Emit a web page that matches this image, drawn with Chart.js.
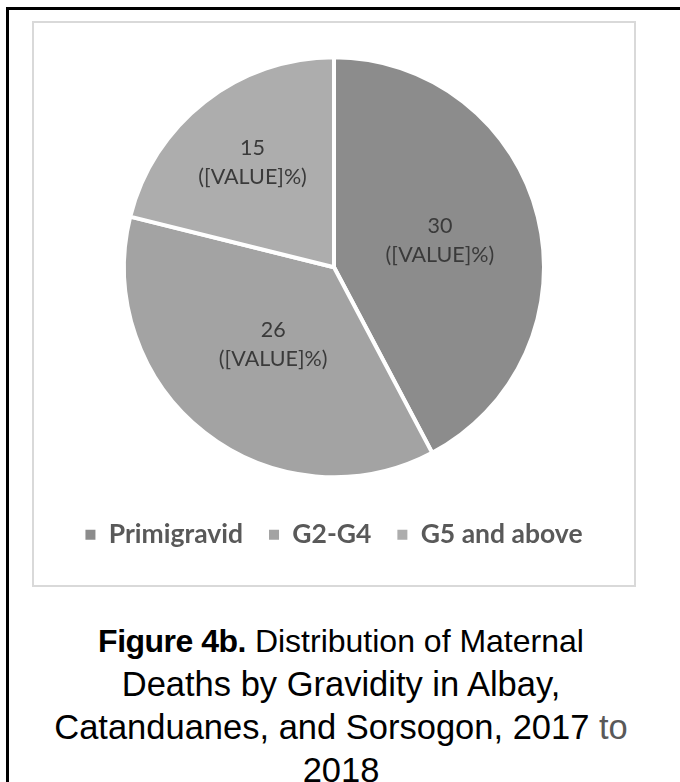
<!DOCTYPE html>
<html>
<head>
<meta charset="utf-8">
<script src="https://cdn.jsdelivr.net/npm/chart.js@4"></script>
<style>
  html, body { margin: 0; padding: 0; background: #fff; width: 680px; height: 782px; overflow: hidden; }
  #frame { position: absolute; left: 6px; top: 7px; width: 700px; height: 800px; border-left: 3px solid #000; border-top: 3px solid #000; }
  #box { position: absolute; left: 32px; top: 21px; width: 600px; height: 562px; border: 2px solid #d9d9d9; background: #fff; }
  #box canvas { display: block; }
  #caption { position: absolute; left: 0; width: 682px; top: 619px; text-align: center; font-family: "Liberation Sans", Arial, sans-serif; font-size: 34.5px; line-height: 43px; color: #000; }
  #caption .l1 { font-size: 32px; }
  #caption b { font-weight: bold; letter-spacing: -0.5px; }
  #caption .gray { color: #595959; }
</style>
</head>
<body>
<div id="frame"></div>
<div id="box"><canvas id="c" width="600" height="562"></canvas></div>
<div id="caption"><span class="l1"><b>Figure 4b.</b> Distribution of Maternal</span><br>Deaths by Gravidity in Albay,<br>Catanduanes, and Sorsogon, 2017 <span class="gray">to</span><br>2018</div>
<script>
const categories = ["Primigravid", "G2-G4", "G5 and above"];
const values = [30, 26, 15];
const pctLabel = "([VALUE]%)";
const colors = ["#8c8c8c", "#a3a3a3", "#adadad"];
const labelRadiusFactor = [0.52, 0.47, 0.63];

const sliceLabels = {
  id: 'sliceLabels',
  afterDatasetsDraw(chart) {
    const ctx = chart.ctx;
    const meta = chart.getDatasetMeta(0);
    ctx.save();
    ctx.font = '21.5px Lato, "Open Sans", sans-serif';
    ctx.fillStyle = '#3a3a3a';
    ctx.textAlign = 'center';
    ctx.textBaseline = 'middle';
    meta.data.forEach((arc, i) => {
      const p = arc.getProps(['x', 'y', 'startAngle', 'endAngle', 'outerRadius'], true);
      const mid = (p.startAngle + p.endAngle) / 2;
      const r = p.outerRadius * labelRadiusFactor[i];
      const x = p.x + Math.cos(mid) * r;
      const y = p.y + Math.sin(mid) * r;
      ctx.fillText(String(chart.data.datasets[0].data[i]), x, y - 14.5);
      ctx.fillText(pctLabel, x, y + 14.5);
    });
    ctx.restore();
  }
};

new Chart(document.getElementById('c'), {
  type: 'pie',
  data: {
    labels: categories,
    datasets: [{
      data: values,
      backgroundColor: colors,
      borderColor: '#ffffff',
      borderWidth: 4,
      radius: 210
    }]
  },
  options: {
    responsive: false,
    animation: false,
    layout: { padding: { top: 16, bottom: 27 } },
    plugins: {
      legend: {
        position: 'bottom',
        labels: {
          boxWidth: 10,
          boxHeight: 10,
          padding: 26,
          color: '#595959',
          font: { family: 'Lato, "Open Sans", sans-serif', size: 26.5, weight: 'bold' },
          generateLabels(chart) {
            const items = Chart.controllers.pie.overrides.plugins.legend.labels.generateLabels(chart);
            items.forEach(it => { it.lineWidth = 0; it.strokeStyle = it.fillStyle; });
            return items;
          }
        }
      },
      tooltip: { enabled: false }
    }
  },
  plugins: [sliceLabels]
});
</script>
</body>
</html>
